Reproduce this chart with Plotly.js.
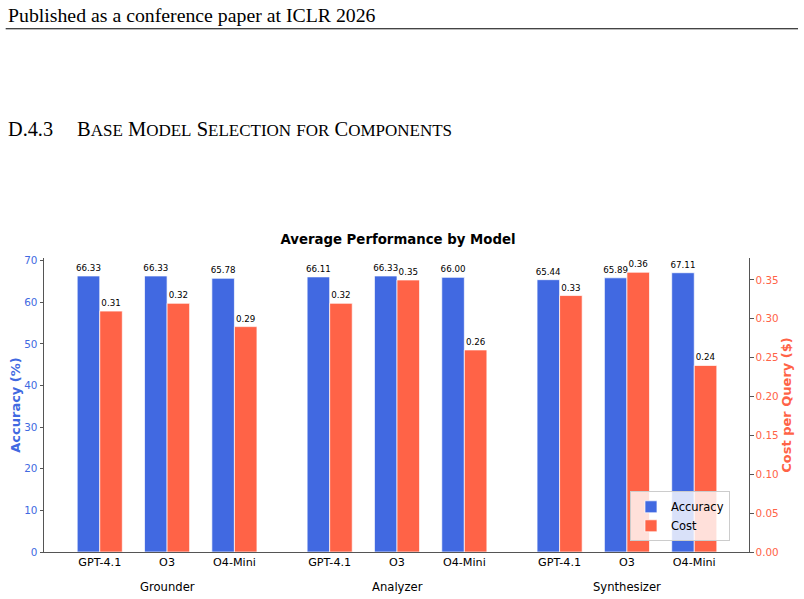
<!DOCTYPE html>
<html>
<head>
<meta charset="utf-8">
<script src="https://cdn.plot.ly/plotly-3.0.1.min.js"></script>
<style>html,body{margin:0;padding:0;background:#fff;}#chart{width:804px;height:599px;}</style>
</head>
<body>
<div id="chart"></div>
<script>
// ---- data ----
const groups = ['Grounder', 'Analyzer', 'Synthesizer'];
const models = ['GPT-4.1', 'O3', 'O4-Mini'];
const accuracy = [66.33, 66.33, 65.78, 66.11, 66.33, 66.00, 65.44, 65.89, 67.11];
const cost = [0.31, 0.32, 0.29, 0.32, 0.35, 0.26, 0.33, 0.36, 0.24];
const headerText = 'Published as a conference paper at ICLR 2026';
const sectionNum = 'D.4.3';
const sectionWords = ['Base', 'Model', 'Selection', 'for', 'Components'];
const chartTitle = 'Average Performance by Model';

// ---- layout geometry ----
const L = 44.3, R = 749, T = 258, B = 551.7;
const W = R - L, H = B - T;
const px2x = p => (p - L) / W;
const py2y = p => (B - p) / H;
const groupGap = 3.415;
const barW = 0.335;

const xs = [], labels = [];
groups.forEach((g, gi) => models.forEach((m, mi) => { xs.push(gi * groupGap + mi); labels.push(m); }));
const groupCenters = groups.map((g, gi) => gi * groupGap + 1);

const BLUE = '#4169E1', RED = '#FF6347';
const FONT = 'DejaVu Sans, sans-serif';
const SERIF = 'Liberation Serif, Times New Roman, serif';

const traces = [
  {
    type: 'bar', name: 'Accuracy', x: xs, y: accuracy, yaxis: 'y',
    width: barW, offset: -barW,
    marker: {color: BLUE, line: {color: 'rgba(255,255,255,0.7)', width: 1}},
    text: accuracy.map(v => v.toFixed(2)), textposition: 'outside',
    textfont: {family: FONT, size: 8.7, color: '#000'}, constraintext: 'none', cliponaxis: false,
    hoverinfo: 'skip'
  },
  {
    type: 'bar', name: 'Cost', x: xs, y: cost, yaxis: 'y2',
    width: barW, offset: 0,
    marker: {color: RED, line: {color: 'rgba(255,255,255,0.7)', width: 1}},
    text: cost.map(v => v.toFixed(2)), textposition: 'outside',
    textfont: {family: FONT, size: 8.7, color: '#000'}, constraintext: 'none', cliponaxis: false,
    hoverinfo: 'skip'
  }
];

function smallCaps(words, small) {
  return words.map(w => {
    const up = w.toUpperCase();
    if (w[0] === w[0].toUpperCase()) {
      return up[0] + '<span style="font-size:' + small + 'px">' + up.slice(1) + '</span>';
    }
    return '<span style="font-size:' + small + 'px">' + up + '</span>';
  }).join(' ');
}

const annotations = [
  {text: headerText, xref: 'paper', yref: 'paper', x: px2x(6), y: py2y(15.5), xanchor: 'left', yanchor: 'middle',
   showarrow: false, font: {family: SERIF, size: 19.8, color: '#000'}},
  {text: sectionNum, xref: 'paper', yref: 'paper', x: px2x(6), y: py2y(129.5), xanchor: 'left', yanchor: 'middle',
   showarrow: false, font: {family: SERIF, size: 20.3, color: '#000'}},
  {text: smallCaps(sectionWords, 17), xref: 'paper', yref: 'paper', x: px2x(75), y: py2y(129.5), xanchor: 'left', yanchor: 'middle',
   showarrow: false, font: {family: SERIF, size: 20.5, color: '#000'}}
];
groups.forEach((g, gi) => annotations.push({
  text: g, xref: 'x', yref: 'paper', x: groupCenters[gi], y: py2y(586.5), xanchor: 'center', yanchor: 'middle',
  showarrow: false, font: {family: FONT, size: 11.6, color: '#000'}
}));

const layout = {
  width: 804, height: 599,
  margin: {l: L, r: 804 - R, t: T, b: 599 - B, pad: 0},
  paper_bgcolor: '#fff', plot_bgcolor: '#fff',
  showlegend: true,
  barmode: 'overlay',
  title: {text: '<b>' + chartTitle + '</b>', x: 0.495, xanchor: 'center', y: 1 - 239 / 599, yanchor: 'middle',
          font: {family: FONT, size: 13.3, color: '#000'}},
  xaxis: {
    range: [-0.828, 9.643], tickvals: xs, ticktext: labels,
    showline: true, linecolor: '#555', linewidth: 1, showgrid: false, zeroline: false,
    ticks: '', ticklabelstandoff: -2.5,
    tickfont: {family: FONT, size: 11.2, color: '#000'}, fixedrange: true
  },
  yaxis: {
    range: [0, 70.65], tickvals: [0, 10, 20, 30, 40, 50, 60, 70],
    showline: true, linecolor: '#555', linewidth: 1, showgrid: false, zeroline: false,
    ticks: 'outside', ticklen: 3.5, tickcolor: '#555', tickwidth: 1,
    tickfont: {family: FONT, size: 10.4, color: BLUE},
    title: {text: 'Accuracy (%)', font: {family: FONT, size: 13, color: BLUE, weight: 'bold'}, standoff: 0}
  },
  yaxis2: {
    overlaying: 'y', side: 'right', range: [0, 0.3783],
    tickvals: [0, 0.05, 0.10, 0.15, 0.20, 0.25, 0.30, 0.35], tickformat: '.2f',
    showline: true, linecolor: '#555', linewidth: 1, showgrid: false, zeroline: false,
    ticks: 'outside', ticklen: 3.5, tickcolor: '#555', tickwidth: 1,
    tickfont: {family: FONT, size: 10.4, color: RED},
    title: {text: 'Cost per Query ($)', font: {family: FONT, size: 13, color: RED, weight: 'bold'}, standoff: 0}
  },
  legend: {
    x: px2x(730), y: py2y(541), xanchor: 'right', yanchor: 'bottom',
    bgcolor: 'rgba(255,255,255,0.8)', bordercolor: '#ccc', borderwidth: 1,
    font: {family: FONT, size: 11.5, color: '#000'}, traceorder: 'normal', itemwidth: 30
  },
  annotations: annotations,
  shapes: [
    {type: 'line', xref: 'paper', yref: 'paper', x0: px2x(6), x1: px2x(798), y0: py2y(29), y1: py2y(29),
     line: {color: '#000', width: 1}}
  ]
};

Plotly.newPlot('chart', traces, layout, {staticPlot: true, displayModeBar: false});
</script>
</body>
</html>
